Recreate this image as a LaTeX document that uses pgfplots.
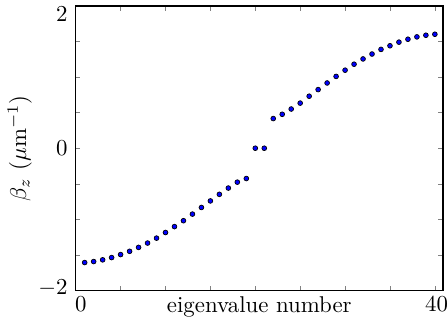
\documentclass[border=0pt]{standalone}
\usepackage{pgfplots}
\pgfplotsset{compat=1.18}
\begin{document}
\begin{tikzpicture}
\begin{axis}[
  scale only axis,
  width=160.8pt, height=124.6pt,
  xmin=0, xmax=40.9, ymin=-2, ymax=2,
  xtick={0,5,...,40},
  xticklabels={\hspace*{4.4pt}$0$,,,,,,,,\hspace*{1.5pt}$40$},
  xticklabel style={inner xsep=0pt, inner ysep=2.5pt},
  ytick={-2,-1.5,...,2},
  yticklabels={\raisebox{-1.8pt}[0pt][0pt]{$-2$},,,,\raisebox{-3.2pt}[0pt][0pt]{$0$},,,,\raisebox{-6.6pt}[0pt][0pt]{$2$}},
  yticklabel style={inner ysep=0pt},
  tick align=inside,
  major tick length=2pt,
  xlabel={eigenvalue number},
  xlabel style={at={(axis description cs:0.5,0)}, anchor=north, inner sep=2.5pt, yshift=0pt},
  ylabel={$\beta_z\ (\mu\mathrm{m}^{-1})$},
  ylabel style={yshift=-4pt},
  axis line style={line width=0.5pt},
]
\addplot[only marks, mark=*, mark size=1.05pt, mark options={fill=blue, draw=black, line width=0.3pt}] coordinates {
(1,-1.607) (2,-1.593) (3,-1.569) (4,-1.537) (5,-1.495) (6,-1.449) (7,-1.394) (8,-1.333)
(9,-1.264) (10,-1.185) (11,-1.102) (12,-1.019) (13,-0.926) (14,-0.833) (15,-0.741)
(16,-0.648) (17,-0.560) (18,-0.477) (19,-0.426) (20,0) (21,0)
(22,0.417) (23,0.477) (24,0.551) (25,0.634) (26,0.731) (27,0.824) (28,0.917) (29,1.009)
(30,1.097) (31,1.181) (32,1.255) (33,1.324) (34,1.389) (35,1.440) (36,1.491) (37,1.532)
(38,1.565) (39,1.588) (40,1.602)
};
\end{axis}
\path ([yshift=2.6pt]current axis.north);
\path ([yshift=-13.4pt]current axis.south);
\end{tikzpicture}
\end{document}
